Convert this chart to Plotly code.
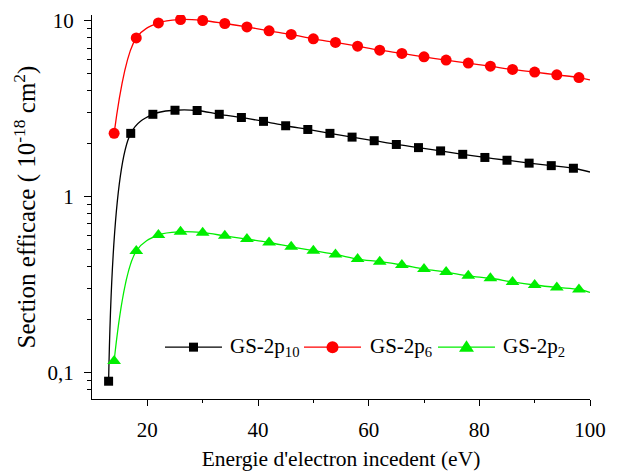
import plotly.graph_objects as go
import numpy as np

# ---- data ----
energy_10 = [13, 17, 21, 25, 29, 33, 37, 41, 45, 49, 53, 57, 61, 65, 69, 73, 77, 81, 85, 89, 93, 97]
gs_2p10 = [0.089, 2.29, 2.94, 3.10, 3.09, 2.94, 2.82, 2.68, 2.53, 2.41, 2.29, 2.18,
           2.08, 1.98, 1.90, 1.82, 1.74, 1.67, 1.61, 1.55, 1.50, 1.45]
end_2p10 = 1.38

energy_6 = [14, 18, 22, 26, 30, 34, 38, 42, 46, 50, 54, 58, 62, 66, 70, 74, 78, 82, 86, 90, 94, 98]
gs_2p6 = [2.29, 8.0, 9.74, 10.18, 10.05, 9.66, 9.24, 8.78, 8.37, 7.90, 7.54, 7.18,
          6.81, 6.53, 6.24, 5.98, 5.75, 5.52, 5.29, 5.11, 4.93, 4.76]
end_2p6 = 4.62

energy_2 = [14, 18, 22, 26, 30, 34, 38, 42, 46, 50, 54, 58, 62, 66, 70, 74, 78, 82, 86, 90, 94, 98]
gs_2p2 = [0.116, 0.49, 0.604, 0.631, 0.623, 0.598, 0.573, 0.548, 0.518, 0.492, 0.469, 0.441,
          0.426, 0.408, 0.387, 0.372, 0.354, 0.343, 0.327, 0.314, 0.304, 0.296]
end_2p2 = 0.285

x_end = 100

x_ticks = [20, 40, 60, 80, 100]
x_minor = [30, 50, 70, 90]
y_ticks = [0.1, 1, 10]
y_ticktext = ["0,1", "1", "10"]
y_minor = [0.08, 0.09, 0.2, 0.3, 0.4, 0.5, 0.6, 0.7, 0.8, 0.9,
           2, 3, 4, 5, 6, 7, 8, 9]

FONT = "'Liberation Serif', 'Times New Roman', Times, serif"

series = [
    ("GS-2p<sub>10</sub>", energy_10, gs_2p10, end_2p10, "#000000", "square", 9),
    ("GS-2p<sub>6</sub>", energy_6, gs_2p6, end_2p6, "#ff0000", "circle", 11),
    ("GS-2p<sub>2</sub>", energy_2, gs_2p2, end_2p2, "#00ee00", "triangle-up", 12),
]

fig = go.Figure()
for name, xs, ys, yend, color, sym, size in series:
    xx = list(xs) + [x_end]
    yy = list(ys) + [yend]
    sizes = [size] * len(xs) + [0]
    fig.add_trace(go.Scatter(
        x=xx, y=yy, name=name, mode="lines+markers", showlegend=False,
        line=dict(color=color, width=1.3, shape="spline", smoothing=1.0),
        marker=dict(symbol=sym, size=sizes, color=color, opacity=1, line=dict(width=0)),
    ))

# ---- custom legend (Origin style: long line with marker in the middle) ----
leg_y = 0.135
leg_items = [  # (line start, line end, text start) in paper fraction
    (0.1466, 0.2610, 0.2731),
    (0.4257, 0.5402, 0.5542),
    (0.6948, 0.8092, 0.8213),
]
shapes = []
annotations = []
for (x0, x1, xt), (name, xs, ys, yend, color, sym, size) in zip(leg_items, series):
    shapes.append(dict(type="line", xref="paper", yref="paper", x0=x0, x1=x1, y0=leg_y, y1=leg_y,
                       line=dict(color=color, width=1.3)))
    xc = (x0 + x1) / 2
    common = dict(xref="paper", yref="paper", xsizemode="pixel", ysizemode="pixel",
                  xanchor=xc, yanchor=leg_y, fillcolor=color, line=dict(width=0))
    if sym == "square":
        shapes.append(dict(type="rect", x0=-4.5, x1=4.5, y0=-4.5, y1=4.5, **common))
    elif sym == "circle":
        shapes.append(dict(type="circle", x0=-6, x1=6, y0=-6, y1=6, **common))
    else:
        shapes.append(dict(type="path", path="M-7.5,-4.5 L7.5,-4.5 L0,7 Z", **common))
    annotations.append(dict(text=name, xref="paper", yref="paper", x=xt, y=leg_y,
                            xanchor="left", yanchor="middle", showarrow=False,
                            font=dict(family=FONT, size=21, color="black")))

fig.update_layout(
    width=621, height=471,
    margin=dict(l=92, r=31, t=15, b=72, autoexpand=False),
    paper_bgcolor="white", plot_bgcolor="white",
    font=dict(family=FONT, size=21, color="black"),
    separators=", ",
    showlegend=False,
    shapes=shapes,
    annotations=annotations,
)

fig.update_xaxes(
    range=[10, 100], showgrid=False, zeroline=False, automargin=False,
    showline=True, linecolor="black", linewidth=1.2,
    ticks="outside", tickcolor="black", ticklen=6, tickwidth=1.2,
    tickvals=x_ticks, tickfont=dict(family=FONT, size=21, color="black"),
    ticklabelstandoff=6,
    minor=dict(tickvals=x_minor, ticks="outside", ticklen=3, tickcolor="black", tickwidth=1.2, showgrid=False),
    title=dict(text="Energie d'electron incedent (eV)", font=dict(family=FONT, size=21.5, color="black"), standoff=22),
)
fig.update_yaxes(
    type="log", range=[np.log10(0.0705), np.log10(10.8)],
    showgrid=False, zeroline=False, automargin=False,
    showline=True, linecolor="black", linewidth=1.2,
    ticks="outside", tickcolor="black", ticklen=7, tickwidth=1.2,
    tickvals=y_ticks, ticktext=y_ticktext,
    tickfont=dict(family=FONT, size=21, color="black"),
    ticklabelstandoff=6,
    minor=dict(tickvals=y_minor, ticks="outside", ticklen=4, tickcolor="black", tickwidth=1.2, showgrid=False),
    title=dict(text="Section efficace ( 10<sup>-18</sup> cm<sup>2</sup>)", font=dict(family=FONT, size=25, color="black"), standoff=4),
)

fig.write_html("out.html")
